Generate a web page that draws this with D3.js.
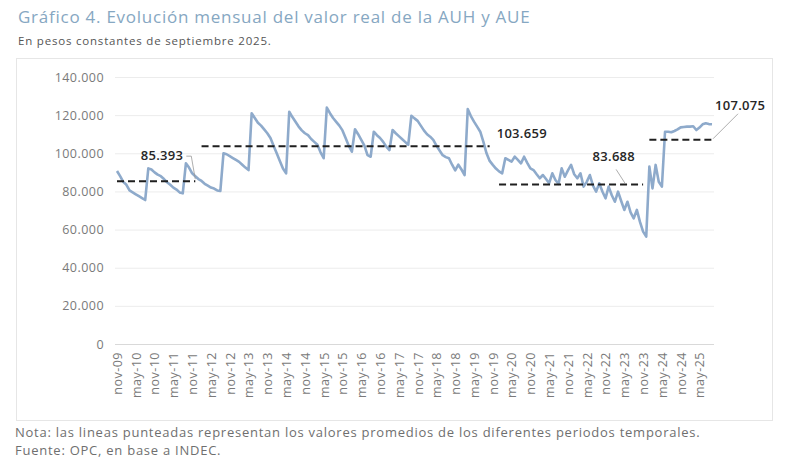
<!DOCTYPE html>
<html>
<head>
<meta charset="utf-8">
<script src="https://cdn.jsdelivr.net/npm/d3@7"></script>
<style>
  body { margin: 0; background: #fff; font-family: 'Open Sans', sans-serif; }
  svg text { font-family: 'Open Sans', sans-serif; }
</style>
</head>
<body>
<script>
// serie mensual nov-09 .. sep-25, pesos constantes de sep-2025
const firstMonth = new Date(2009, 10, 1)
const lastMonth = new Date(2025, 8, 1)
const monthNames = ['ene', 'feb', 'mar', 'abr', 'may', 'jun', 'jul', 'ago', 'sep', 'oct', 'nov', 'dic']

const values = [
  90700, 88000, 85000, 83500, 80500, 79500, 78500, 77500, 76500, 75500,
  92100, 91500, 90000, 88800, 88000, 86500, 84800, 83500, 82000, 81000,
  79500, 79000, 94700, 92500, 89500, 88000, 86500, 85500, 84000, 83000,
  82000, 81500, 80500, 80200, 100000, 99500, 98500, 97500, 96500, 95500,
  94000, 92500, 91200, 121000, 118500, 116000, 114500, 112500, 110500, 108000,
  104000, 100000, 96000, 92000, 89500, 121800, 119000, 116500, 114000, 112000,
  110500, 109500, 107500, 106000, 104500, 100500, 97400, 124000, 121000, 118500,
  116500, 114500, 112000, 108000, 104000, 100800, 112600, 110000, 107000, 104000,
  99000, 98200, 111300, 109500, 108000, 106000, 103500, 101700, 112200, 110500,
  109000, 107500, 106000, 104400, 119700, 118300, 117000, 114500, 112000, 110000,
  108700, 107000, 104000, 101500, 99000, 98000, 97400, 94000, 91000, 94000,
  91500, 88600, 123200, 119500, 116600, 114000, 111300, 106000, 100000, 96000,
  93900, 92000, 90500, 89500, 97400, 96500, 95600, 98200, 96500, 94700,
  98200, 95000, 92100, 91200, 89000, 86900, 88600, 86500, 84300, 89500,
  86000, 84000, 92100, 87700, 91000, 93900, 89000, 86900, 89500, 82500,
  85000, 88600, 83000, 79900, 84300, 80000, 76400, 82500, 78000, 74600,
  79900, 75000, 70300, 74600, 69000, 65900, 70300, 64000, 58900, 56300,
  93000, 81600, 93900, 85100, 82500, 111300, 111300, 111000, 111700, 112500,
  113600, 113800, 114000, 114000, 114200, 112200, 113500, 115200, 115700, 115300,
  115200
]

const tickLabels = [
  'nov-09', 'may-10', 'nov-10', 'may-11', 'nov-11', 'may-12', 'nov-12', 'may-13',
  'nov-13', 'may-14', 'nov-14', 'may-15', 'nov-15', 'may-16', 'nov-16', 'may-17',
  'nov-17', 'may-18', 'nov-18', 'may-19', 'nov-19', 'may-20', 'nov-20', 'may-21',
  'nov-21', 'may-22', 'nov-22', 'may-23', 'nov-23', 'may-24', 'nov-24', 'may-25'
]
const yTicks = [0, 20000, 40000, 60000, 80000, 100000, 120000, 140000]

// promedios por periodo
const periodStart = ['nov-09', 'feb-12', 'ene-20', 'ene-24']
const periodEnd = ['dic-11', 'oct-19', 'nov-23', 'sep-25']
const periodAvg = [85393, 103659, 83688, 107075]

const w = 790
const h = 461
const m = { top: 77, right: 78, bottom: 117, left: 117 }

const fmtMonth = (d) => monthNames[d.getMonth()] + '-' + String(d.getFullYear()).slice(2)
const months = d3.timeMonth.range(firstMonth, d3.timeMonth.offset(lastMonth, 1)).map(fmtMonth)
const data = months.map((mo, i) => ({ month: mo, value: values[i] }))

const locale = d3.formatLocale({ decimal: ',', thousands: '.', grouping: [3], currency: ['$', ''] })
const fmt = locale.format(',.0f')

const svg = d3.select('body')
  .append('svg')
  .attr('width', w)
  .attr('height', h)

// marco
svg.append('rect')
  .attr('x', 16.5)
  .attr('y', 58.5)
  .attr('width', 756)
  .attr('height', 362)
  .attr('fill', '#fff')
  .attr('stroke', '#e6e6e6')

svg.append('text')
  .attr('x', 18)
  .attr('y', 23)
  .attr('font-size', 17)
  .attr('letter-spacing', 0.75)
  .attr('fill', '#86a7c2')
  .text('Gráfico 4. Evolución mensual del valor real de la AUH y AUE')

svg.append('text')
  .attr('x', 18)
  .attr('y', 45)
  .attr('font-size', 11.5)
  .attr('letter-spacing', 0.8)
  .attr('fill', '#555')
  .text('En pesos constantes de septiembre 2025.')

const xScale = d3.scalePoint()
  .domain(months)
  .range([m.left, w - m.right])

const yScale = d3.scaleLinear()
  .domain([0, 140000])
  .range([h - m.bottom, m.top])

// grilla
const yAxis = d3.axisLeft(yScale)
  .tickValues(yTicks)
  .tickFormat(fmt)
  .tickSize(-(w - m.right - m.left + 4))
  .tickPadding(11)

const gy = svg.append('g')
  .attr('class', 'y-axis')
  .attr('transform', 'translate(' + (m.left - 2) + ',0)')
  .call(yAxis)
gy.select('.domain').remove()
gy.selectAll('line').attr('stroke', (d) => d === 0 ? '#d9d9d9' : '#ececec')
gy.selectAll('text').attr('font-size', 12.5).attr('letter-spacing', 0.45).attr('fill', '#7a7a7a')

const xAxis = d3.axisBottom(xScale)
  .tickValues(tickLabels)
  .tickSize(0)

const gx = svg.append('g')
  .attr('class', 'x-axis')
  .attr('transform', 'translate(0,' + (h - m.bottom) + ')')
  .call(xAxis)
gx.select('.domain').remove()
gx.selectAll('text')
  .attr('font-size', 12.5)
  .attr('letter-spacing', 0.5)
  .attr('fill', '#7a7a7a')
  .attr('text-anchor', 'end')
  .attr('transform', 'rotate(-90)')
  .attr('x', -8)
  .attr('y', 0)
  .attr('dx', 0)
  .attr('dy', '0.35em')

// serie
const line = d3.line()
  .x((d) => xScale(d.month))
  .y((d) => yScale(d.value))

svg.append('path')
  .datum(data)
  .attr('fill', 'none')
  .attr('stroke', '#8eaacb')
  .attr('stroke-width', 2.6)
  .attr('stroke-linejoin', 'round')
  .attr('d', line)

// promedios
const periods = periodAvg.map((v, i) => ({ start: periodStart[i], end: periodEnd[i], value: v }))

svg.selectAll('.avg')
  .data(periods)
  .enter()
  .append('line')
  .attr('class', 'avg')
  .attr('x1', (d) => xScale(d.start))
  .attr('x2', (d) => xScale(d.end))
  .attr('y1', (d) => yScale(d.value))
  .attr('y2', (d) => yScale(d.value))
  .attr('stroke', '#1f1f1f')
  .attr('stroke-width', 2)
  .attr('stroke-dasharray', '7,4')

// etiquetas: desplazamiento desde el final de cada tramo
const labelPos = [
  { dx: -12, dy: -21, anchor: 'end', leader: [[-9, -25], [-4, -25], [0, -2]] },
  { dx: 7, dy: -8, anchor: 'start', leader: null },
  { dx: -8, dy: -23, anchor: 'end', leader: [[-27, -15], [-18, -1]] },
  { dx: 3, dy: -30, anchor: 'start', leader: [[26, -26], [1, -1]] }
]

periods.forEach((d, i) => {
  const x = xScale(d.end)
  const y = yScale(d.value)
  const p = labelPos[i]
  svg.append('text')
    .attr('x', x + p.dx)
    .attr('y', y + p.dy)
    .attr('text-anchor', p.anchor)
    .attr('font-size', 13)
    .attr('font-weight', 600)
    .attr('letter-spacing', 0.3)
    .attr('fill', '#262626')
    .text(fmt(d.value))
  if (p.leader) {
    svg.append('path')
      .attr('fill', 'none')
      .attr('stroke', '#999')
      .attr('stroke-width', 0.8)
      .attr('d', d3.line()(p.leader.map((q) => [x + q[0], y + q[1]])))
  }
})

svg.append('text')
  .attr('x', 15)
  .attr('y', 437)
  .attr('font-size', 13)
  .attr('letter-spacing', 0.75)
  .attr('fill', '#6f6f6f')
  .text('Nota: las lineas punteadas representan los valores promedios de los diferentes periodos temporales.')

svg.append('text')
  .attr('x', 15)
  .attr('y', 455)
  .attr('font-size', 13)
  .attr('letter-spacing', 0.75)
  .attr('fill', '#6f6f6f')
  .text('Fuente: OPC, en base a INDEC.')
</script>
</body>
</html>
